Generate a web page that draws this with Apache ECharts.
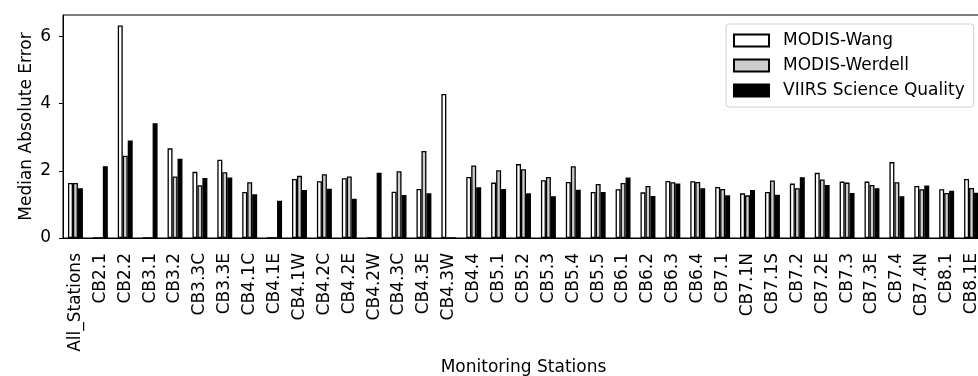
<!DOCTYPE html>
<html><head><meta charset="utf-8">
<script src="https://cdn.jsdelivr.net/npm/echarts@6/dist/echarts.min.js"></script>
<style>html,body{margin:0;padding:0;background:#fff}#c{width:978px;height:376px}</style>
</head><body><div id="c"></div>
<script>
const stations = ["All_Stations","CB2.1","CB2.2","CB3.1","CB3.2","CB3.3C","CB3.3E","CB4.1C","CB4.1E","CB4.1W","CB4.2C","CB4.2E","CB4.2W","CB4.3C","CB4.3E","CB4.3W","CB4.4","CB5.1","CB5.2","CB5.3","CB5.4","CB5.5","CB6.1","CB6.2","CB6.3","CB6.4","CB7.1","CB7.1N","CB7.1S","CB7.2","CB7.2E","CB7.3","CB7.3E","CB7.4","CB7.4N","CB8.1","CB8.1E"];
const modisWang = [1.64,0,6.33,0,2.67,1.97,2.33,1.37,0,1.76,1.69,1.78,0,1.38,1.46,4.29,1.82,1.65,2.20,1.72,1.67,1.37,1.45,1.36,1.70,1.69,1.52,1.33,1.37,1.62,1.94,1.68,1.68,2.26,1.55,1.45,1.76];
const modisWerdell = [1.64,0,2.45,0,1.83,1.57,1.96,1.66,0,1.85,1.90,1.83,0,1.99,2.59,0,2.16,2.02,2.05,1.82,2.14,1.61,1.64,1.55,1.66,1.67,1.46,1.27,1.71,1.48,1.74,1.65,1.58,1.66,1.45,1.34,1.49];
const viirsSQ = [1.48,2.14,2.90,3.42,2.36,1.79,1.80,1.30,1.11,1.43,1.47,1.17,1.94,1.28,1.33,0,1.51,1.46,1.33,1.24,1.44,1.37,1.80,1.25,1.62,1.48,1.27,1.43,1.29,1.81,1.58,1.34,1.48,1.24,1.56,1.41,1.35];
const yTicks = [0,2,4,6];
const seriesNames = ["MODIS-Wang","MODIS-Werdell","VIIRS Science Quality"];

const FONT = 'DejaVu Sans';
const FS = 17;
const chart = echarts.init(document.getElementById('c'), null, {renderer:'canvas'});
function bar(name, data, fill){
  return {name, type:'bar', data, barWidth:'20%', barGap:'0%',
    itemStyle:{color:fill, borderColor:'#000', borderWidth:1.3}, animation:false};
}
chart.setOption({
  animation:false,
  textStyle:{fontFamily:FONT, color:'#000'},
  grid:{left:63, top:15, bottom:138, right:-6, show:true, borderColor:'#000', borderWidth:1,
        containLabel:false, outerBoundsMode:'none'},
  legend:{
    orient:'vertical', left:726, top:24, data:seriesNames, icon:'rect',
    itemWidth:35, itemHeight:12, itemGap:6,
    backgroundColor:'#fff', borderColor:'#d0d0d0', borderWidth:1, borderRadius:3,
    padding:[7,9,7,7],
    textStyle:{fontFamily:FONT, fontSize:FS, color:'#000', padding:[0,0,0,9], lineHeight:19}
  },
  xAxis:{
    type:'category', data:stations, boundaryGap:true,
    name:'Monitoring Stations', nameLocation:'middle', nameGap:121, nameMoveOverlap:false,
    nameTextStyle:{fontFamily:FONT, fontSize:FS, color:'#000'},
    axisLine:{lineStyle:{color:'#000', width:1}},
    axisTick:{alignWithLabel:true, length:4, lineStyle:{color:'#000'}},
    axisLabel:{rotate:90, interval:0, margin:15, fontFamily:FONT, fontSize:FS, color:'#000'}
  },
  yAxis:{
    type:'value', min:0, max:6.64, interval:2,
    name:'Median Absolute Error', nameLocation:'middle', nameGap:28, nameMoveOverlap:false,
    nameTextStyle:{fontFamily:FONT, fontSize:FS, color:'#000'},
    splitLine:{show:false},
    axisLine:{show:true, lineStyle:{color:'#000', width:1}},
    axisTick:{show:true, length:4, lineStyle:{color:'#000'}, customValues:yTicks},
    axisLabel:{margin:12, fontFamily:FONT, fontSize:FS, color:'#000', customValues:yTicks}
  },
  series:[
    bar(seriesNames[0], modisWang, '#ffffff'),
    bar(seriesNames[1], modisWerdell, '#cccccc'),
    bar(seriesNames[2], viirsSQ, '#000000')
  ]
});
</script></body></html>
